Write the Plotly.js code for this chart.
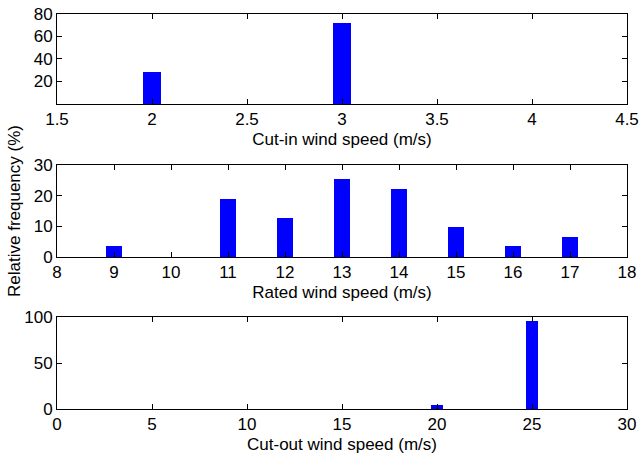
<!DOCTYPE html>
<html>
<head>
<meta charset="utf-8">
<script src="https://cdn.plot.ly/plotly-3.0.1.min.js"></script>
<style>html,body{margin:0;padding:0;background:#fff;}#chart{width:639px;height:456px;}</style>
</head>
<body>
<div id="chart"></div>
<script>
// Cut-in wind speed (m/s) and relative frequency (%)
const cutInSpeeds = [2, 3];
const cutInFreq = [28.2, 71.8];

// Rated wind speed (m/s) and relative frequency (%)
const ratedSpeeds = [9, 9.5, 10, 10.5, 11, 11.5, 12, 12.5, 13, 13.5, 14, 14.5, 15, 15.5, 16, 16.5, 17];
const ratedFreq = [3.5, 0, 0, 0, 18.9, 0, 12.8, 0, 25.4, 0, 22.2, 0, 9.7, 0, 3.5, 0, 6.6];

// Cut-out wind speed (m/s) and relative frequency (%)
const cutOutSpeeds = [1,2,3,4,5,6,7,8,9,10,11,12,13,14,15,16,17,18,19,20,21,22,23,24,25];
const cutOutFreq = [0,0,0,0,0,0,0,0,0,0,0,0,0,0,0,0,0,0,0,4,0,0,0,0,96];

// Tick labels
const cutInTickVals = [1.5, 2, 2.5, 3, 3.5, 4, 4.5];
const cutInTickText = ['1.5', '2', '2.5', '3', '3.5', '4', '4.5'];
const ratedTickVals = [8, 9, 10, 11, 12, 13, 14, 15, 16, 17, 18];
const cutOutTickVals = [0, 5, 10, 15, 20, 25, 30];

const blue = '#0000ff';
const font = {family: 'Liberation Sans, Arial, Helvetica, sans-serif', size: 17, color: '#000'};

const traces = [
  {type: 'bar', x: cutInSpeeds, y: cutInFreq, width: 0.095, xaxis: 'x', yaxis: 'y',
   marker: {color: blue, line: {width: 0}}, hoverinfo: 'none'},
  {type: 'bar', x: ratedSpeeds, y: ratedFreq, width: 0.27, xaxis: 'x2', yaxis: 'y2',
   marker: {color: blue, line: {width: 0}}, hoverinfo: 'none'},
  {type: 'bar', x: cutOutSpeeds, y: cutOutFreq, width: 0.66, xaxis: 'x3', yaxis: 'y3',
   marker: {color: blue, line: {width: 0}}, hoverinfo: 'none'}
];

function ax(extra) {
  return Object.assign({
    showline: true, linecolor: '#000', linewidth: 1, mirror: 'ticks',
    ticks: 'inside', ticklen: 5, tickcolor: '#000', tickwidth: 1,
    showgrid: false, zeroline: false, fixedrange: true,
    tickfont: font
  }, extra);
}

const layout = {
  width: 639, height: 456,
  margin: {l: 57, r: 12, t: 14, b: 47},
  paper_bgcolor: '#fff', plot_bgcolor: '#fff',
  showlegend: false,
  font: font,
  bargap: 0,
  xaxis: ax({domain: [0, 1], anchor: 'y', range: [1.5, 4.5], tickvals: cutInTickVals, ticktext: cutInTickText,
    title: {text: 'Cut-in wind speed (m/s)', font: font, standoff: 4}}),
  yaxis: ax({domain: [0.7722, 1], anchor: 'x', range: [0, 80], tickvals: [20, 40, 60, 80]}),
  xaxis2: ax({domain: [0, 1], anchor: 'y2', range: [8, 18], tickvals: ratedTickVals,
    title: {text: 'Rated wind speed (m/s)', font: font, standoff: 4}}),
  yaxis2: ax({domain: [0.3848, 0.6177], anchor: 'x2', range: [0, 30], tickvals: [0, 10, 20, 30],
    title: {text: 'Relative frequency (%)', font: font, standoff: 8}}),
  xaxis3: ax({domain: [0, 1], anchor: 'y3', range: [0, 30], tickvals: cutOutTickVals,
    title: {text: 'Cut-out wind speed (m/s)', font: font, standoff: 4}}),
  yaxis3: ax({domain: [0, 0.2329], anchor: 'x3', range: [0, 100], tickvals: [0, 50, 100]})
};

Plotly.newPlot('chart', traces, layout, {staticPlot: true, displayModeBar: false});
</script>
</body>
</html>
